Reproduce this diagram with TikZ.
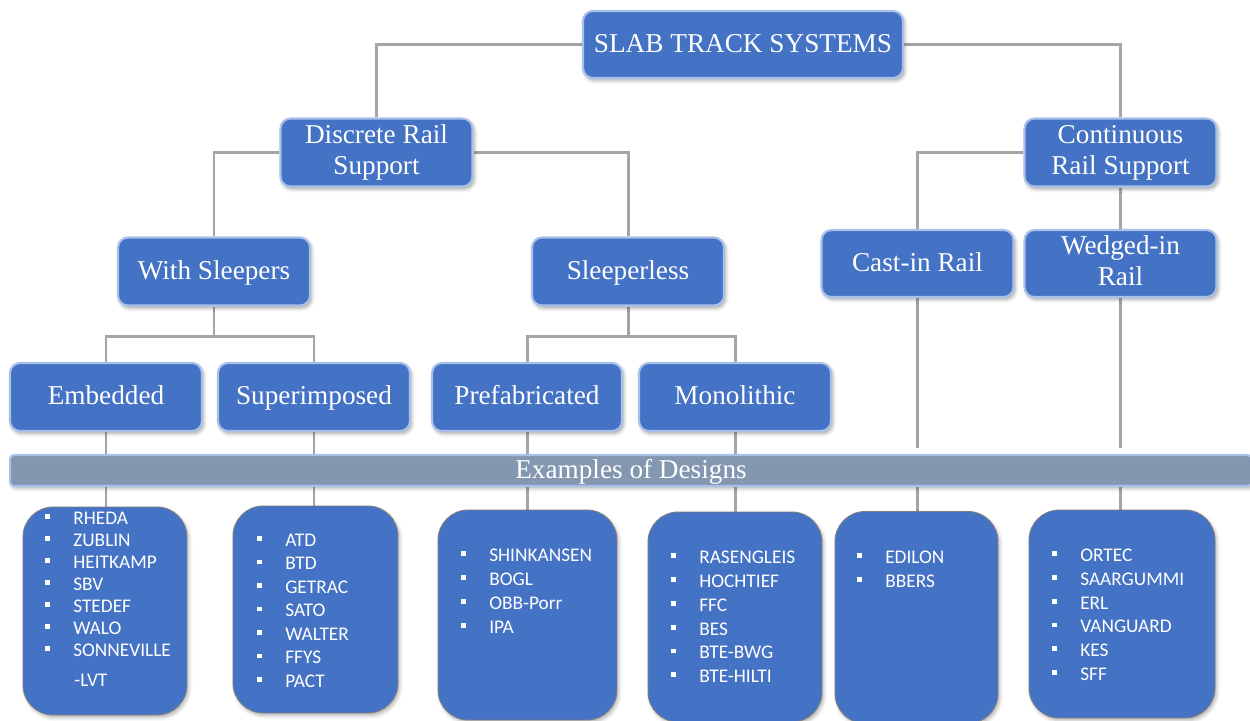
\documentclass[tikz,border=0pt]{standalone}
\usepackage{fontspec}
\setmainfont{Liberation Serif}
\newfontfamily\listfont{Carlito}
\usetikzlibrary{shadows.blur}
\definecolor{nodeblue}{HTML}{4472C4}
\definecolor{glowblue}{HTML}{A9C0E9}
\definecolor{linegray}{HTML}{A5A5A5}
\definecolor{bannergray}{HTML}{8497B0}
\definecolor{boxedge}{HTML}{7F7F7F}
\pgfdeclarelayer{bg}
\pgfsetlayers{bg,main}
\newcommand\lstitem[1]{\makebox[15.9pt][l]{\raisebox{3pt}{\rule{2.8pt}{2.8pt}}}#1}
\newcommand\hdrstrut{\rule[-4pt]{0pt}{17pt}}
\newcommand\twolines[2]{\raisebox{-3.2pt}{\begin{tabular}{@{}c@{}}#1\\#2\end{tabular}}}
\begin{document}
\begin{tikzpicture}[x=0.02cm,y=-0.02cm,
  hdr/.style={draw=glowblue, line width=1.2pt, fill=nodeblue, rounded corners=0.2cm,
    text=white, align=center, inner sep=0pt, minimum width=3.84cm, minimum height=1.36cm,
    font=\fontsize{15.5}{17.6}\selectfont,
    execute at begin node=\hdrstrut, execute at end node=\hdrstrut,
    blur shadow={shadow xshift=1pt, shadow yshift=-1.5pt, shadow blur radius=2pt, shadow opacity=35}},
  hdrtwo/.style={hdr, execute at begin node={}, execute at end node={}},
  banner/.style={draw=glowblue, line width=1.2pt, fill=bannergray, rounded corners=0.08cm,
    text=white, inner sep=0pt, minimum width=24.84cm, minimum height=0.62cm,
    font=\fontsize{15.5}{17.6}\selectfont,
    execute at begin node=\hdrstrut,
    blur shadow={shadow xshift=1pt, shadow yshift=-1.5pt, shadow blur radius=2pt, shadow opacity=30}},
  lst/.style={draw=boxedge, line width=0.5pt, fill=nodeblue, rounded corners=0.6cm,
    inner sep=0pt,
    blur shadow={shadow xshift=1pt, shadow yshift=-1.5pt, shadow blur radius=2pt, shadow opacity=30}},
  itm/.style={anchor=west, text=white, inner sep=0pt, font=\listfont\fontsize{11}{13}\selectfont},
  conn/.style={draw=linegray, line width=1.7pt},
]
\useasboundingbox (0,0) rectangle (1250,720);

% header nodes
\node[hdr, minimum width=6.4cm, minimum height=1.34cm] (slab) at (743,44.5) {SLAB TRACK SYSTEMS};
\node[hdrtwo] (drs) at (376.5,152.5) {\twolines{Discrete Rail}{Support}};
\node[hdrtwo] (crs) at (1120.5,152.5) {\twolines{Continuous}{Rail Support}};
\node[hdr] (ws) at (214,271.5) {With Sleepers};
\node[hdr] (sl) at (628,271.5) {Sleeperless};
\node[hdr, minimum height=1.34cm] (cir) at (917.5,263.5) {Cast-in Rail};
\node[hdrtwo, minimum height=1.34cm] (wir) at (1120.5,263.5) {\twolines{Wedged-in}{Rail}};
\node[hdr] (emb) at (106,397) {Embedded};
\node[hdr] (sup) at (314,397) {Superimposed};
\node[hdr, minimum width=3.8cm] (pre) at (527,397) {Prefabricated};
\node[hdr] (mon) at (735,397) {Monolithic};

% banner
\node[banner] (ban) at (631,470.5) {Examples of Designs};

% list boxes
\node[lst, minimum width=3.28cm, minimum height=4.16cm] (b1) at (105,611) {};
\node[lst, minimum width=3.3cm, minimum height=4.14cm] (b2) at (315.5,609.5) {};
\node[lst, minimum width=3.58cm, minimum height=4.2cm] (b3) at (527.5,615) {};
\node[lst, minimum width=3.48cm, minimum height=4.2cm] (b4) at (735,617) {};
\node[lst, minimum width=3.26cm, minimum height=4.24cm] (b5) at (916.5,617.5) {};
\node[lst, minimum width=3.72cm, minimum height=4.16cm] (b6) at (1122,614) {};

% items box 1
\node[itm] (i11) at (45,518) {\lstitem{RHEDA}};
\node[itm] (i12) at (45,540) {\lstitem{ZUBLIN}};
\node[itm] (i13) at (45,562) {\lstitem{HEITKAMP}};
\node[itm] (i14) at (45,584) {\lstitem{SBV}};
\node[itm] (i15) at (45,606) {\lstitem{STEDEF}};
\node[itm] (i16) at (45,628) {\lstitem{WALO}};
\node[itm] (i17) at (45,650) {\lstitem{SONNEVILLE}};
\node[itm] (i18) at (74,680) {-LVT};
% items box 2
\node[itm] (i21) at (257,540) {\lstitem{ATD}};
\node[itm] (i22) at (257,563.5) {\lstitem{BTD}};
\node[itm] (i23) at (257,587) {\lstitem{GETRAC}};
\node[itm] (i24) at (257,610.5) {\lstitem{SATO}};
\node[itm] (i25) at (257,634) {\lstitem{WALTER}};
\node[itm] (i26) at (257,657.5) {\lstitem{FFYS}};
\node[itm] (i27) at (257,681) {\lstitem{PACT}};
% items box 3
\node[itm] (i31) at (461,555) {\lstitem{SHINKANSEN}};
\node[itm] (i32) at (461,579) {\lstitem{BOGL}};
\node[itm] (i33) at (461,603) {\lstitem{OBB-Porr}};
\node[itm] (i34) at (461,627) {\lstitem{IPA}};
% items box 4
\node[itm] (i41) at (671,557) {\lstitem{RASENGLEIS}};
\node[itm] (i42) at (671,581) {\lstitem{HOCHTIEF}};
\node[itm] (i43) at (671,605) {\lstitem{FFC}};
\node[itm] (i44) at (671,629) {\lstitem{BES}};
\node[itm] (i45) at (671,652.5) {\lstitem{BTE-BWG}};
\node[itm] (i46) at (671,676) {\lstitem{BTE-HILTI}};
% items box 5
\node[itm] (i51) at (857,557) {\lstitem{EDILON}};
\node[itm] (i52) at (857,581) {\lstitem{BBERS}};
% items box 6
\node[itm] (i61) at (1052,555) {\lstitem{ORTEC}};
\node[itm] (i62) at (1052,579) {\lstitem{SAARGUMMI}};
\node[itm] (i63) at (1052,603) {\lstitem{ERL}};
\node[itm] (i64) at (1052,626.5) {\lstitem{VANGUARD}};
\node[itm] (i65) at (1052,650) {\lstitem{KES}};
\node[itm] (i66) at (1052,674) {\lstitem{SFF}};

\coordinate (cirend) at (917.5,448);
\coordinate (wirend) at (1120.5,448);

\begin{pgfonlayer}{bg}
  \draw[conn] (slab.west) -| (drs.north);
  \draw[conn] (slab.east) -| (crs.north);
  \draw[conn] (drs.west) -| (ws.north);
  \draw[conn] (drs.east) -| (sl.north);
  \draw[conn] (crs.west) -| (cir.north);
  \draw[conn] (crs.south) -- (wir.north);
  \draw[conn] (ws.south) -- ++(0,30) -| (emb.north);
  \draw[conn] (ws.south) -- ++(0,30) -| (sup.north);
  \draw[conn] (sl.south) -- ++(0,30) -| (pre.north);
  \draw[conn] (sl.south) -- ++(0,30) -| (mon.north);
  \draw[conn] (emb.south) -- (emb.south |- ban.north);
  \draw[conn] (sup.south) -- (sup.south |- ban.north);
  \draw[conn] (pre.south) -- (pre.south |- ban.north);
  \draw[conn] (mon.south) -- (mon.south |- ban.north);
  \draw[conn] (cir.south) -- (cirend);
  \draw[conn] (wir.south) -- (wirend);
  \draw[conn] (emb.south |- ban.south) -- (emb.south |- b1.north);
  \draw[conn] (sup.south |- ban.south) -- (sup.south |- b2.north);
  \draw[conn] (pre.south |- ban.south) -- (pre.south |- b3.north);
  \draw[conn] (mon.south |- ban.south) -- (mon.south |- b4.north);
  \draw[conn] (cir.south |- ban.south) -- (cir.south |- b5.north);
  \draw[conn] (wir.south |- ban.south) -- (wir.south |- b6.north);
\end{pgfonlayer}
\end{tikzpicture}
\end{document}
